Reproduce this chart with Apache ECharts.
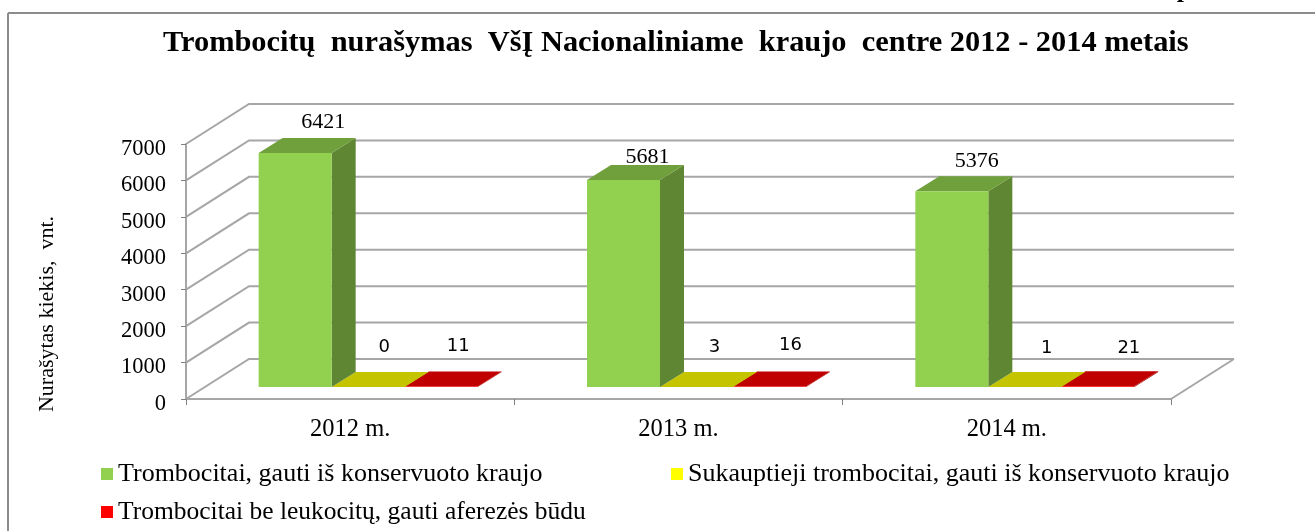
<!DOCTYPE html>
<html lang="lt">
<head>
    <meta charset="UTF-8">
    <title>Trombocitų nurašymas</title>
    <script src="https://cdn.jsdelivr.net/npm/echarts@6/dist/echarts.min.js"></script>
    <style>
        html, body { margin: 0; padding: 0; background: #fff; }
        #main { width: 1315px; height: 531px; }
    </style>
</head>
<body>
<div id="main"></div>
<script type="text/javascript">
    var years = ['2012 m.', '2013 m.', '2014 m.'];
    var seriesNames = [
        'Trombocitai, gauti iš konservuoto kraujo',
        'Sukauptieji trombocitai, gauti iš konservuoto kraujo',
        'Trombocitai be leukocitų, gauti aferezės būdu'
    ];
    var konservuoto = [6421, 5681, 5376];
    var sukauptieji = [0, 3, 1];
    var aferezes = [11, 16, 21];
    var yTicks = [0, 1000, 2000, 3000, 4000, 5000, 6000, 7000];

    var SERIF = '"Liberation Serif", serif';
    var GRID_COLOR = '#a6a6a6';
    // wall depth and bar depth, in pixels
    var WALL_DX = 63, WALL_DY = 40;
    var BAR_DX = 24, BAR_DY = 15, BAR_W = 73, BAR_LIFT = 12, BAR_SHIFT = 18;

    var frontColor = ['#92d050', '#ffff00', '#ff0000'];
    var sideColor = ['#5f8632', '#a6a600', '#a60000'];
    var topColor = ['#70a03c', '#c4c400', '#c00000'];

    // hand placed labels in the original, offset from the back top edge of the bar
    var labelFont = [
        '22px ' + SERIF,
        '18px "DejaVu Sans", sans-serif',
        '18px "DejaVu Sans", sans-serif'
    ];
    var labelDx = [[28, 24, 25], [16, 18, 22], [17, 21, 31]];
    var labelDy = [[-16, -8, -15], [-25, -25, -24], [-25, -26, -23]];

    function renderGrid(params, api) {
        var v = api.value(1);
        var p = api.coord([0, v]);
        var cs = params.coordSys;
        var x = cs.x, r = cs.x + cs.width;
        var children = [{
            type: 'polyline',
            shape: {points: [[x, p[1]], [x + WALL_DX, p[1] - WALL_DY], [r + WALL_DX, p[1] - WALL_DY]]},
            style: {fill: null, stroke: GRID_COLOR, lineWidth: 2}
        }];
        if (v === 0) {
            children.push({
                type: 'line',
                shape: {x1: r, y1: p[1], x2: r + WALL_DX, y2: p[1] - WALL_DY},
                style: {stroke: GRID_COLOR, lineWidth: 2}
            });
        }
        return {type: 'group', children: children};
    }

    function renderBar(params, api) {
        var s = params.seriesIndex - 1;
        var cat = api.value(0);
        var val = api.value(1);
        var c = api.coord([cat, val]);
        var base = api.coord([cat, 0]);
        var x0 = c[0] + BAR_SHIFT - BAR_W * 1.5 + s * BAR_W;
        var x1 = x0 + BAR_W;
        var yb = base[1] - BAR_LIFT;
        var yt = c[1] - BAR_LIFT;
        return {
            type: 'group',
            children: [{
                type: 'polygon',
                shape: {points: [[x1, yt], [x1 + BAR_DX, yt - BAR_DY], [x1 + BAR_DX, yb - BAR_DY], [x1, yb]]},
                style: {fill: sideColor[s]}
            }, {
                type: 'polygon',
                shape: {points: [[x0, yt], [x0 + BAR_DX, yt - BAR_DY], [x1 + BAR_DX, yt - BAR_DY], [x1, yt]]},
                style: {fill: topColor[s]}
            }, {
                type: 'rect',
                shape: {x: x0, y: yt, width: BAR_W, height: yb - yt},
                style: {fill: frontColor[s]}
            }, {
                type: 'text',
                z2: 10,
                x: (x0 + x1) / 2 + labelDx[s][cat],
                y: yt - BAR_DY + labelDy[s][cat],
                style: {
                    text: String(val),
                    font: labelFont[s],
                    fill: '#000',
                    align: 'center',
                    verticalAlign: 'middle'
                }
            }]
        };
    }

    function barSeries(i, values, z) {
        return {
            type: 'custom',
            name: seriesNames[i],
            coordinateSystem: 'cartesian2d',
            renderItem: renderBar,
            clip: false,
            z: z,
            itemStyle: {color: frontColor[i]},
            encode: {x: 0, y: 1},
            data: values.map(function (v, k) { return [k, v]; })
        };
    }

    function legendOf(i, left, top, size, gap) {
        return {
            data: [seriesNames[i]],
            left: left,
            top: top,
            icon: 'rect',
            itemWidth: 12,
            itemHeight: 12,
            itemGap: gap,
            selectedMode: false,
            padding: 0,
            textStyle: {fontFamily: SERIF, fontSize: size, color: '#000', padding: [6, 0, 0, 0]}
        };
    }

    var option = {
        animation: false,
        backgroundColor: '#fff',
        title: {
            text: 'Trombocitų  nurašymas  VšĮ Nacionaliniame  kraujo  centre 2012 - 2014 metais',
            left: 163,
            top: 28,
            padding: 0,
            textStyle: {fontFamily: SERIF, fontSize: 30.4, fontWeight: 'bold', color: '#000'}
        },
        grid: {left: 186, right: 144, top: 144, bottom: 132},
        xAxis: {
            type: 'category',
            data: years,
            axisLine: {lineStyle: {color: GRID_COLOR, width: 2}},
            axisTick: {show: true, length: 6, lineStyle: {color: '#808080', width: 1}},
            axisLabel: {fontFamily: SERIF, fontSize: 24.5, color: '#000', margin: 18}
        },
        yAxis: {
            type: 'value',
            min: 0,
            max: 7000,
            interval: 1000,
            axisLine: {show: true, lineStyle: {color: GRID_COLOR, width: 2}},
            axisTick: {show: true, length: 5, lineStyle: {color: '#808080', width: 1}},
            splitLine: {show: false},
            axisLabel: {
                fontFamily: SERIF,
                fontSize: 22.5,
                color: '#000',
                margin: 20,
                verticalAlign: 'top',
                lineHeight: 10,
                formatter: function (v) { return String(v); }
            }
        },
        legend: [
            legendOf(0, 101, 461, 26, 9),
            legendOf(1, 671, 461, 26, 12),
            legendOf(2, 101, 499, 25.5, 9)
        ],
        series: [
            {
                type: 'custom',
                name: 'tinklelis',
                coordinateSystem: 'cartesian2d',
                renderItem: renderGrid,
                clip: false,
                silent: true,
                z: 1,
                encode: {x: 0, y: 1},
                data: yTicks.map(function (v) { return [0, v]; })
            },
            barSeries(0, konservuoto, 4),
            barSeries(1, sukauptieji, 3),
            barSeries(2, aferezes, 2)
        ],
        graphic: [
            {
                type: 'line',
                shape: {x1: 8, y1: 13, x2: 1315, y2: 13},
                style: {stroke: '#8c8c8c', lineWidth: 2}
            },
            {
                type: 'line',
                shape: {x1: 8, y1: 13, x2: 8, y2: 531},
                style: {stroke: '#8c8c8c', lineWidth: 2}
            },
            {
                type: 'text',
                x: 47,
                y: 314,
                rotation: Math.PI / 2,
                style: {
                    text: 'Nurašytas kiekis,  vnt.',
                    font: '22px ' + SERIF,
                    fill: '#000',
                    align: 'center',
                    verticalAlign: 'middle'
                }
            },
            {
                // descender of a line cut off by the top edge of the picture
                type: 'text',
                x: 1184,
                y: -10,
                style: {
                    text: 'p',
                    font: 'bold 26px ' + SERIF,
                    fill: '#000',
                    align: 'center',
                    verticalAlign: 'middle'
                }
            }
        ]
    };

    var chart = echarts.init(document.getElementById('main'));
    chart.setOption(option);
</script>
</body>
</html>
